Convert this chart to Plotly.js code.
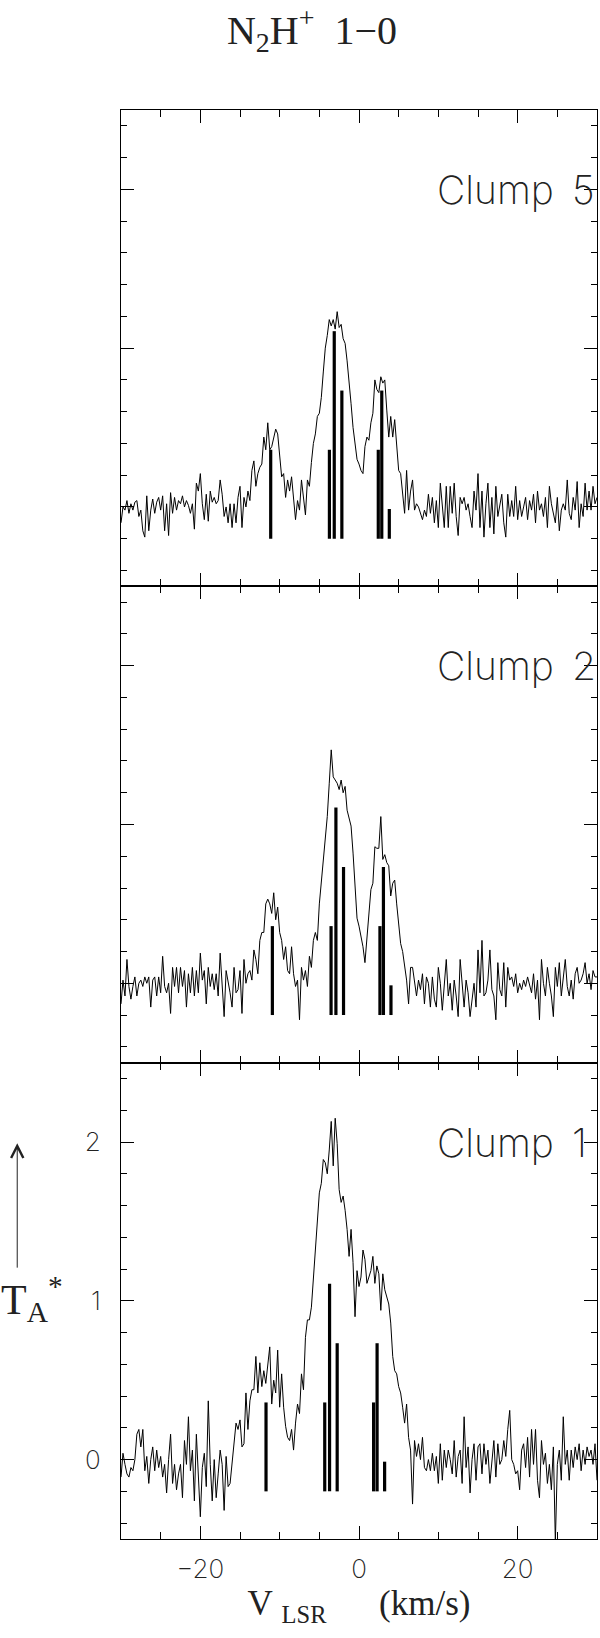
<!DOCTYPE html>
<html>
<head>
<meta charset="utf-8">
<script src="https://cdn.plot.ly/plotly-3.0.1.min.js"></script>
<style>
html,body{margin:0;padding:0;background:#fff;}
#chart{width:600px;height:1638px;}
</style>
</head>
<body>
<div id="chart"></div>
<script>
// Channel grid of the spectra (km/s)
const vStart = -30;
const dv = 0.25;

// Antenna temperature T_A* per channel, one row per km/s (4 channels)
const clump5 = [
 -0.10, 0.00, -0.02, 0.04,   // -30
 -0.04, 0.02, -0.02, 0.03,   // -29
  0.04, -0.06, -0.02, -0.15, // -28
 -0.19, 0.07, -0.15, -0.02,  // -27
  0.05, -0.04, 0.03, 0.06,   // -26
 -0.02, 0.07, -0.15, 0.02,   // -25
 -0.18, 0.09, -0.04, 0.06,   // -24
 -0.02, 0.04, 0.02, 0.07,    // -23
  0.00, 0.04, 0.01, -0.04,   // -22
  0.02, -0.14, 0.15, 0.10,   // -21
  0.21, 0.02, -0.08, 0.08,   // -20
 -0.09, 0.10, 0.03, 0.06,    // -19
  0.02, 0.04, 0.17, 0.08,    // -18
 -0.06, 0.00, -0.10, 0.02,   // -17
 -0.13, 0.02, -0.10, 0.06,   // -16
  0.13, -0.13, 0.06, 0.00,   // -15
  0.10, 0.04, 0.23, 0.29,    // -14
  0.13, 0.21, 0.25, 0.27,    // -13
  0.44, 0.36, 0.53, 0.36,    // -12
  0.38, 0.44, 0.49, 0.46,    // -11
  0.34, 0.19, 0.21, 0.06,    // -10
  0.17, 0.10, 0.19, 0.04,    // -9
 -0.08, 0.04, -0.02, 0.17,   // -8
  0.06, -0.05, 0.17, 0.13,   // -7
  0.28, 0.40, 0.46, 0.57,    // -6
  0.59, 0.69, 0.85, 1.00,    // -5
  1.08, 1.18, 1.14, 1.18,    // -4
  1.12, 1.23, 1.13, 1.15,    // -3
  1.06, 1.03, 0.92, 0.80,    // -2
  0.65, 0.50, 0.38, 0.30,    // -1
  0.27, 0.23, 0.21, 0.38,    // 0
  0.44, 0.42, 0.53, 0.59,    // 1
  0.80, 0.74, 0.72, 0.82,    // 2
  0.78, 0.80, 0.61, 0.44,    // 3
  0.57, 0.44, 0.55, 0.36,    // 4
  0.23, 0.21, 0.08, -0.04,   // 5
  0.23, -0.02, 0.10, 0.17,   // 6
 -0.02, 0.02, 0.00, -0.04,   // 7
 -0.08, -0.02, -0.06, 0.08,  // 8
 -0.04, 0.06, -0.10, 0.04,   // 9
 -0.13, 0.15, -0.02, -0.13,  // 10
  0.13, -0.13, 0.13, -0.04,  // 11
  0.15, -0.06, -0.18, 0.06,  // 12
  0.02, 0.06, -0.02, 0.02,   // 13
 -0.06, -0.13, 0.10, -0.02,  // 14
  0.21, -0.13, 0.10, -0.19,  // 15
  0.02, 0.15, -0.13, 0.06,   // 16
 -0.17, 0.13, -0.06, 0.02,   // 17
  0.08, -0.10, -0.19, 0.08,  // 18
 -0.06, 0.04, -0.06, 0.13,   // 19
 -0.08, 0.04, -0.06, 0.00,   // 20
  0.06, -0.08, 0.04, -0.02,  // 21
  0.08, -0.10, 0.10, -0.02,  // 22
  0.02, -0.06, 0.06, -0.13,  // 23
  0.13, 0.02, -0.04, -0.10,  // 24
  0.06, -0.15, -0.02, 0.02,  // 25
 -0.02, 0.17, -0.04, -0.08,  // 26
  0.06, -0.02, 0.16, -0.13,  // 27
  0.02, -0.06, 0.15, -0.02,  // 28
  0.10, -0.02, 0.13, 0.02,   // 29
  0.06                       // 30
];

const clump2 = [
 -0.13, 0.02, -0.08, 0.15,   // -30
 -0.02, -0.10, -0.02, 0.04,  // -29
 -0.08, 0.00, 0.02, -0.02,   // -28
  0.04, 0.00, 0.04, -0.15,   // -27
  0.02, 0.04, -0.08, 0.04,   // -26
 -0.06, 0.17, -0.02, -0.06,  // -25
  0.00, -0.19, 0.10, -0.02,  // -24
  0.10, -0.06, 0.10, -0.02,  // -23
  0.08, -0.15, 0.06, -0.06,  // -22
  0.10, -0.08, 0.08, -0.06,  // -21
  0.19, 0.02, 0.08, -0.13,   // -20
  0.10, -0.02, 0.06, -0.04,  // -19
  0.06, -0.08, 0.19, -0.02,  // -18
 -0.21, 0.08, 0.02, -0.06,   // -17
 -0.15, 0.10, -0.06, -0.04,  // -16
  0.08, -0.19, 0.15, 0.00,   // -15
  0.06, 0.08, 0.02, 0.21,    // -14
  0.15, 0.06, 0.27, 0.32,    // -13
  0.32, 0.50, 0.53, 0.50,    // -12
  0.44, 0.57, 0.40, 0.48,    // -11
  0.32, 0.27, 0.15, 0.23,    // -10
  0.08, 0.06, 0.23, 0.06,    // -9
 -0.02, 0.02, -0.23, 0.10,   // -8
  0.02, 0.08, -0.02, 0.17,   // -7
  0.10, 0.27, 0.32, 0.27,    // -6
  0.50, 0.65, 0.79, 0.92,    // -5
  1.05, 1.26, 1.47, 1.30,    // -4
  1.28, 1.26, 1.22, 1.28,    // -3
  1.20, 1.24, 1.09, 1.03,    // -2
  0.99, 0.82, 0.60, 0.41,    // -1
  0.36, 0.29, 0.23, 0.13,    // 0
  0.28, 0.40, 0.59, 0.63,    // 1
  0.86, 0.85, 0.85, 1.05,    // 2
  0.78, 0.81, 0.76, 0.74,    // 3
  0.55, 0.63, 0.65, 0.50,    // 4
  0.37, 0.25, 0.20, 0.10,    // 5
  0.02, -0.13, 0.10, 0.10,   // 6
  0.02, -0.08, 0.02, -0.04,  // 7
  0.06, -0.13, 0.04, 0.00,   // 8
 -0.15, 0.04, -0.10, -0.15,  // 9
  0.10, 0.00, -0.17, 0.00,   // 10
  0.15, -0.08, 0.00, -0.17,  // 11
  0.02, -0.08, -0.21, 0.15,  // 12
 -0.02, -0.15, 0.02, -0.06,  // 13
 -0.21, -0.10, 0.00, -0.15,  // 14
  0.21, -0.06, 0.27, -0.08,  // 15
 -0.06, 0.02, 0.21, -0.04,   // 16
 -0.08, -0.23, 0.13, -0.04,  // 17
 -0.08, 0.13, -0.15, 0.10,   // 18
  0.02, 0.04, -0.02, 0.06,   // 19
 -0.06, 0.00, -0.04, 0.02,   // 20
 -0.02, 0.04, -0.02, -0.06,  // 21
  0.06, -0.10, 0.02, -0.23,  // 22
  0.15, 0.00, -0.08, 0.10,   // 23
  0.00, -0.08, -0.21, 0.10,  // 24
 -0.02, 0.13, -0.08, 0.06,   // 25
  0.15, -0.02, -0.08, 0.02,  // 26
 -0.10, 0.06, 0.10, 0.00,    // 27
  0.02, 0.06, 0.13, 0.00,    // 28
  0.06, -0.04, 0.08, 0.04,   // 29
  0.04                       // 30
];

const clump1 = [
 -0.11, 0.04, -0.03, -0.09,  // -30
 -0.11, -0.05, -0.07, 0.00,  // -29
  0.16, 0.19, 0.08, 0.19,    // -28
 -0.07, 0.02, -0.15, 0.00,   // -27
  0.08, -0.07, 0.06, -0.05,  // -26
  0.02, -0.11, -0.03, -0.21, // -25
  0.00, 0.16, -0.15, -0.03,  // -24
 -0.19, -0.09, -0.03, -0.24, // -23
  0.12, -0.03, 0.27, -0.07,  // -22
  0.06, -0.26, 0.16, -0.07,  // -21
 -0.36, -0.05, 0.04, -0.17,  // -20
  0.37, -0.03, -0.26, 0.00,  // -19
 -0.24, -0.09, 0.06, -0.03,  // -18
 -0.32, 0.02, -0.17, -0.15,  // -17
 -0.03, 0.12, 0.23, 0.19,    // -16
  0.25, 0.08, 0.10, 0.42,    // -15
  0.19, 0.37, 0.44, 0.44,    // -14
  0.65, 0.42, 0.61, 0.46,    // -13
  0.56, 0.48, 0.61, 0.71,    // -12
  0.35, 0.50, 0.42, 0.69,    // -11
  0.33, 0.54, 0.33, 0.21,    // -10
  0.14, 0.12, 0.19, 0.06,    // -9
  0.23, 0.35, 0.29, 0.54,    // -8
  0.44, 0.77, 0.88, 0.88,    // -7
  0.96, 1.15, 1.28, 1.49,    // -6
  1.68, 1.74, 1.89, 1.87,    // -5
  1.80, 1.95, 2.13, 1.85,    // -4
  2.15, 1.99, 1.70, 1.62,    // -3
  1.66, 1.57, 1.45, 1.28,    // -2
  1.45, 1.24, 0.90, 1.19,    // -1
  1.09, 1.15, 1.32, 1.26,    // 0
  1.11, 1.15, 1.19, 1.28,    // 1
  1.11, 1.22, 1.17, 0.94,    // 2
  1.17, 1.07, 1.03, 0.98,    // 3
  0.86, 0.65, 0.56, 0.54,    // 4
  0.46, 0.42, 0.33, 0.23,    // 5
  0.35, 0.14, 0.06, -0.28,   // 6
  0.12, 0.02, 0.10, 0.00,    // 7
  0.14, -0.05, -0.07, 0.00,  // 8
 -0.07, 0.04, -0.07, 0.02,   // 9
 -0.15, 0.10, -0.13, 0.06,   // 10
 -0.05, 0.06, 0.00, -0.09,   // 11
  0.12, -0.11, 0.02, 0.06,   // 12
 -0.15, 0.27, -0.05, 0.08,   // 13
 -0.21, 0.00, 0.10, -0.13,   // 14
  0.08, 0.10, -0.09, 0.10,   // 15
 -0.03, 0.06, -0.15, 0.00,   // 16
  0.12, -0.11, 0.10, -0.03,  // 17
  0.00, 0.12, 0.02, 0.19,    // 18
  0.31, 0.00, -0.03, -0.09,  // 19
 -0.07, -0.19, 0.06, 0.10,   // 20
 -0.05, 0.14, -0.11, 0.19,   // 21
 -0.03, 0.19, -0.13, -0.24,  // 22
  0.12, -0.03, 0.04, -0.15,  // 23
 -0.03, -0.19, 0.08, -0.52,  // 24
 -0.03, 0.06, -0.13, 0.27,   // 25
 -0.03, 0.06, -0.13, 0.06,   // 26
 -0.05, 0.08, 0.00, 0.10,    // 27
 -0.07, 0.06, -0.03, 0.08,   // 28
  0.02, 0.06, -0.03, 0.10,   // 29
 -0.13                       // 30
];

// Hyperfine components (stick spectrum): velocities per clump, common top values and base
const hfsVel5 = [-11.13, -3.73, -3.12, -2.16, 2.43, 2.87, 3.82];
const hfsVel2 = [-10.92, -3.52, -2.91, -1.95, 2.64, 3.08, 4.03];
const hfsVel1 = [-11.72, -4.32, -3.71, -2.75, 1.84, 2.28, 3.23];
const hfsTop  = [0.36, 0.36, 1.107, 0.733, 0.36, 0.733, -0.013];
const hfsBase = -0.2;

const panelNames = ['Clump\u00a0\u20095', 'Clump\u00a0\u20092', 'Clump\u00a0\u20091'];
const xTickVals = [-20, 0, 20];
const yTickVals = [0, 1, 2];

// ---------------------------------------------------------------
const lightFont = {family: 'Inter, Roboto, "DejaVu Sans", sans-serif', weight: 200, color: '#222'};
const serifFont = {family: '"Liberation Serif", "DejaVu Serif", serif', color: '#222'};

function velocities(n) { const v = []; for (let i = 0; i < n; i++) v.push(vStart + i * dv); return v; }

const panels = [
  {spec: clump5, hfs: hfsVel5, xa: 'x',  ya: 'y'},
  {spec: clump2, hfs: hfsVel2, xa: 'x2', ya: 'y2'},
  {spec: clump1, hfs: hfsVel1, xa: 'x3', ya: 'y3'}
];

const traces = [];
panels.forEach(p => {
  traces.push({type: 'scatter', mode: 'lines', x: velocities(p.spec.length), y: p.spec,
    xaxis: p.xa, yaxis: p.ya, line: {color: '#000', width: 1}, hoverinfo: 'skip', showlegend: false});
  const bx = [], by = [];
  p.hfs.forEach((v, k) => { bx.push(v, v, null); by.push(hfsBase, hfsTop[k], null); });
  traces.push({type: 'scatter', mode: 'lines', x: bx, y: by, xaxis: p.xa, yaxis: p.ya,
    line: {color: '#000', width: 3.2}, hoverinfo: 'skip', showlegend: false, connectgaps: false});
});

function xAxis(anchor, labels) {
  return {
    anchor: anchor, domain: [0, 1], range: [-30, 30], showgrid: false, zeroline: false,
    showline: true, linecolor: '#000', linewidth: 1, mirror: 'allticks',
    ticks: 'inside', ticklen: 13, tickwidth: 1, tickcolor: '#000',
    tickmode: 'array', tickvals: xTickVals,
    minor: {dtick: 5, tick0: 0, ticks: 'inside', ticklen: 7, tickwidth: 1, tickcolor: '#000', showgrid: false},
    showticklabels: labels, ticklabelstandoff: 7,
    tickfont: Object.assign({size: 26}, lightFont)
  };
}
function yAxis(anchor, domain, labels) {
  return {
    anchor: anchor, domain: domain, range: [-0.5, 2.5], showgrid: false, zeroline: false,
    showline: true, linecolor: '#000', linewidth: 1, mirror: 'allticks',
    ticks: 'inside', ticklen: 13, tickwidth: 1, tickcolor: '#000',
    tickmode: 'array', tickvals: yTickVals,
    minor: {dtick: 0.2, tick0: 0, ticks: 'inside', ticklen: 6, tickwidth: 1, tickcolor: '#000', showgrid: false},
    showticklabels: labels, ticklabelstandoff: 14,
    tickfont: Object.assign({size: 26}, lightFont)
  };
}

const xa3 = xAxis('y3', true);
xa3.title = {text: 'V\u00a0<sub>LSR</sub>\u00a0\u00a0\u00a0\u00a0\u00a0\u00a0(km/s)', font: Object.assign({size: 35}, serifFont), standoff: 6};

const annotations = panelNames.map((t, k) => ({
  text: t, xref: ['x', 'x2', 'x3'][k], yref: ['y', 'y2', 'y3'][k], x: 9.6, y: 2,
  xanchor: 'left', yanchor: 'middle', showarrow: false,
  font: Object.assign({size: 39}, lightFont)
}));
// y-axis label: arrow and T_A*
annotations.push({text: '', xref: 'paper', yref: 'paper', x: -0.218, y: 0.277, ax: 0, ay: 126,
  showarrow: true, arrowhead: 5, arrowsize: 2.4, arrowwidth: 1, arrowcolor: '#222', standoff: 0, startstandoff: 0});
annotations.push({text: 'T<sub>A</sub><sup>*</sup>', xref: 'paper', yref: 'paper', x: -0.257, y: 0.168,
  xanchor: 'left', yanchor: 'middle', showarrow: false, font: Object.assign({size: 42}, serifFont)});

const layout = {
  width: 600, height: 1638,
  margin: {l: 121, r: 3, t: 110, b: 99, pad: 0},
  paper_bgcolor: '#fff', plot_bgcolor: '#fff',
  showlegend: false,
  title: {text: 'N<sub>2</sub>H<sup>+</sup>\u00a0\u00a01\u22120', font: Object.assign({size: 40}, serifFont),
    x: 0.52, xref: 'container', xanchor: 'center', y: 1 - 30 / 1638, yref: 'container', yanchor: 'middle'},
  xaxis: xAxis('y', false),
  xaxis2: xAxis('y2', false),
  xaxis3: xa3,
  yaxis: yAxis('x', [2 / 3, 1], false),
  yaxis2: yAxis('x2', [1 / 3, 2 / 3], false),
  yaxis3: yAxis('x3', [0, 1 / 3], true),
  annotations: annotations
};

Plotly.newPlot('chart', traces, layout, {displayModeBar: false, staticPlot: true});
</script>
</body>
</html>
